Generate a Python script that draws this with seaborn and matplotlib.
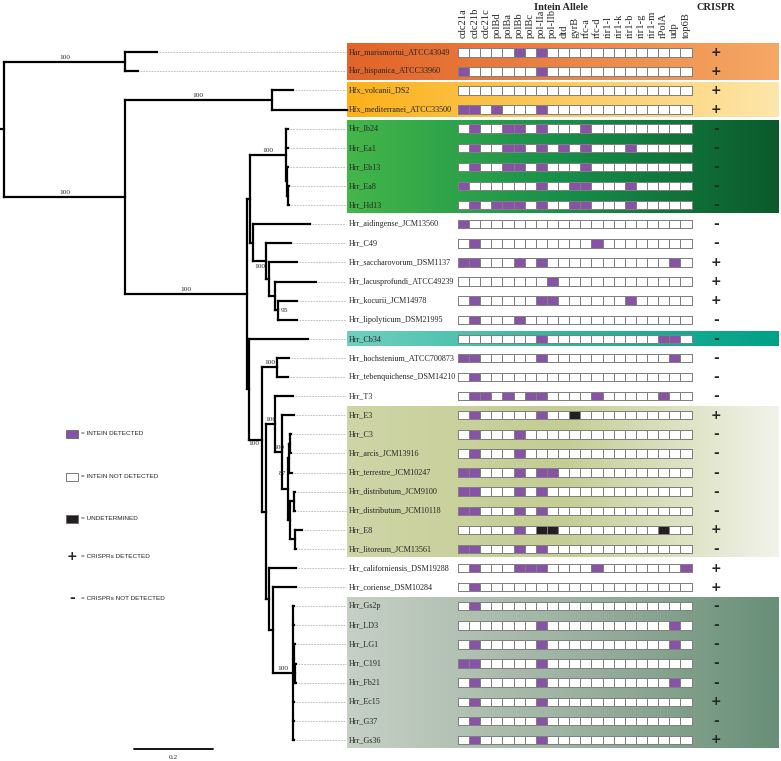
import numpy as np
import pandas as pd
import matplotlib
matplotlib.use("Agg")
import matplotlib.pyplot as plt
import seaborn as sns
from matplotlib.colors import ListedColormap, LinearSegmentedColormap
from matplotlib.patches import Rectangle

# ---------------- data ----------------
taxa = [
    "Har_marismortui_ATCC43049", "Har_hispanica_ATCC33960", "Hfx_volcanii_DS2",
    "Hfx_mediterranei_ATCC33500", "Hrr_Ib24", "Hrr_Ea1", "Hrr_Eb13", "Hrr_Ea8", "Hrr_Hd13",
    "Hrr_aidingense_JCM13560", "Hrr_C49", "Hrr_saccharovorum_DSM1137",
    "Hrr_lacusprofundi_ATCC49239", "Hrr_kocurii_JCM14978", "Hrr_lipolyticum_DSM21995",
    "Hrr_Cb34", "Hrr_hochstenium_ATCC700873", "Hrr_tebenquichense_DSM14210", "Hrr_T3",
    "Hrr_E3", "Hrr_C3", "Hrr_arcis_JCM13916", "Hrr_terrestre_JCM10247",
    "Hrr_distributum_JCM9100", "Hrr_distributum_JCM10118", "Hrr_E8", "Hrr_litoreum_JCM13561",
    "Hrr_californiensis_DSM19288", "Hrr_coriense_DSM10284", "Hrr_Gs2p", "Hrr_LD3", "Hrr_LG1",
    "Hrr_C191", "Hrr_Fb21", "Hrr_Ec15", "Hrr_G37", "Hrr_Gs36",
]

alleles = ["cdc21a", "cdc21b", "cdc21c", "polBd", "polBa", "polBb", "polBc", "pol-IIa",
           "pol-IIb", "dtd", "gyrB", "rfc-a", "rfc-d", "rir1-l", "rir1-k", "rir1-b",
           "rir1-g", "rir1-m", "rPolA", "udp", "top6B"]

intein_detected = [
    ["polBb", "pol-IIa"],
    ["cdc21a", "pol-IIa"],
    [],
    ["cdc21a", "cdc21b", "polBd", "pol-IIa"],
    ["cdc21b", "polBa", "polBb", "pol-IIa", "rfc-a"],
    ["cdc21b", "polBa", "polBb", "pol-IIa", "dtd", "rfc-a", "rir1-b"],
    ["cdc21b", "polBa", "polBb", "pol-IIa", "rfc-a"],
    ["cdc21a", "pol-IIa", "gyrB", "rfc-a", "rir1-b"],
    ["cdc21b", "polBd", "polBa", "polBb", "pol-IIa", "gyrB", "rfc-a", "rir1-b"],
    ["cdc21a"],
    ["cdc21b", "rfc-d"],
    ["cdc21a", "cdc21b", "polBb", "pol-IIa", "udp"],
    ["pol-IIb"],
    ["cdc21b", "pol-IIa", "pol-IIb", "rir1-b"],
    ["cdc21b", "polBb"],
    ["pol-IIa", "rPolA", "udp"],
    ["cdc21a", "cdc21b", "pol-IIa", "udp"],
    ["cdc21b"],
    ["cdc21b", "cdc21c", "polBa", "polBc", "pol-IIa", "rfc-d", "rPolA"],
    ["cdc21b", "pol-IIa"],
    ["cdc21b", "polBb"],
    ["cdc21b", "polBb"],
    ["cdc21a", "cdc21b", "polBb", "pol-IIa", "pol-IIb"],
    ["cdc21a", "cdc21b", "polBb", "pol-IIa"],
    ["cdc21a", "cdc21b", "polBb", "pol-IIa"],
    ["polBb"],
    ["cdc21a", "cdc21b", "polBb", "pol-IIa"],
    ["cdc21b", "polBb", "polBc", "pol-IIa", "rfc-d", "top6B"],
    ["cdc21b"],
    ["cdc21b"],
    ["pol-IIa", "udp"],
    ["cdc21b", "pol-IIa", "udp"],
    ["cdc21a", "cdc21b", "pol-IIa"],
    ["cdc21b", "pol-IIa", "udp"],
    ["cdc21b", "pol-IIa"],
    ["cdc21b", "pol-IIa"],
    ["cdc21b", "pol-IIa"],
]
undetermined_taxa = ["Hrr_E3", "Hrr_E8"]
undetermined_alleles = [["gyrB"], ["pol-IIa", "pol-IIb", "rPolA"]]

crispr = ["+", "+", "+", "+", "-", "-", "-", "-", "-", "-", "-", "+", "+", "+", "-", "-",
          "-", "-", "-", "+", "-", "-", "-", "-", "-", "+", "-", "+", "+", "-", "-", "-",
          "-", "-", "+", "-", "+"]

# tree (branch lengths in substitutions/site, support as internal labels)
F_ = "(Hrr_kocurii_JCM14978:0.048,Hrr_lipolyticum_DSM21995:0.046)95:0.010"
E_ = f"(Hrr_lacusprofundi_ATCC49239:0.106,{F_}):0.013"
D_ = f"(Hrr_saccharovorum_DSM1137:0.071,{E_})100:0.008"
C_ = f"(Hrr_C49:0.063,{D_}):0.033"
B_ = f"(Hrr_aidingense_JCM13560:0.144,{C_}):0.008"
G_ = "(Hrr_Ib24:0.005,Hrr_Ea1:0.006,(Hrr_Eb13:0.003,(Hrr_Ea8:0.004,Hrr_Hd13:0.004):0.002):0.002)100:0.091"
A_ = f"({G_},{B_}):0.008"
K_ = "(Hrr_hochstenium_ATCC700873:0.030,Hrr_tebenquichense_DSM14210:0.028)100:0.038"
Pt_ = "((Hrr_C3:0.003,Hrr_arcis_JCM13916:0.003):0.002,Hrr_terrestre_JCM10247:0.006):0.003"
Q_ = ("((Hrr_distributum_JCM9100:0.004,Hrr_distributum_JCM10118:0.004):0.010,"
      "(Hrr_E8:0.018,Hrr_litoreum_JCM13561:0.003):0.012):0.005")
O_ = f"({Pt_},{Q_})87:0.015"
N_ = f"(Hrr_E3:0.030,{O_})100:0.018"
M_ = f"(Hrr_T3:0.046,{N_})100:0.023"
T_ = ("(Hrr_Gs2p:0.003,Hrr_LD3:0.003,(Hrr_LG1:0.002,(Hrr_C191:0.003,Hrr_Fb21:0.003):0.002):0.002,"
      "Hrr_Ec15:0.003,Hrr_G37:0.003,Hrr_Gs36:0.003)100:0.051")
S_ = f"(Hrr_coriense_DSM10284:0.058,{T_}):0.010"
R_ = f"(Hrr_californiensis_DSM19288:0.068,{S_}):0.008"
L_ = f"({M_},{R_}):0.010"
J_ = f"({K_},{L_})100:0.033"
I_ = f"(Hrr_Cb34:0.149,{J_}):0.005"
H_ = f"({A_},{I_})100:0.309"
HFX_ = "(Hfx_volcanii_DS2:0.053,Hfx_mediterranei_ATCC33500:0.190)100:0.372"
R2_ = f"({HFX_},{H_})100:0.306"
HAR_ = "(Har_marismortui_ATCC43049:0.081,Har_hispanica_ATCC33960:0.033)100:0.306"
newick = f"({HAR_},{R2_}):0.010;"

band_first = ["Har_marismortui_ATCC43049", "Hfx_volcanii_DS2", "Hrr_Ib24", "Hrr_Cb34",
              "Hrr_E3", "Hrr_Gs2p"]
band_last = ["Har_hispanica_ATCC33960", "Hfx_mediterranei_ATCC33500", "Hrr_Hd13", "Hrr_Cb34",
             "Hrr_litoreum_JCM13561", "Hrr_Gs36"]

legend_labels = ["= INTEIN DETECTED", "= INTEIN NOT DETECTED", "= UNDETERMINED",
                 "= CRISPRs DETECTED", "= CRISPRs NOT DETECTED"]

# ---------------- styles ----------------
band_colors = [
    ["#e2642a", "#ec8443", "#f6a865"],
    ["#fbb11a", "#fcca5e", "#fee6ab"],
    ["#45b649", "#16904a", "#0b5a2b"],
    ["#72cfc0", "#2fb6a0", "#00a187"],
    ["#cfd5a7", "#c4cd93", "#f2f3ea"],
    ["#c6d0c5", "#9fb4a2", "#688f77"],
]
band_pad = [0.46, 0.4, 0.42, 0.37, 0.43, 0.43]
PURPLE = "#8853a6"
BLACK = "#231f20"

sns.set_theme(style="white")
plt.rcParams["font.family"] = ["Liberation Serif", "DejaVu Serif"]

W, H = 781, 761
PX_PER_UNIT = 395.0
ROW0, ROW_STEP = 52.3, 19.1


def X(px):
    return px / PX_PER_UNIT


def Y(px):
    return (px - ROW0) / ROW_STEP


fig = plt.figure(figsize=(W / 100, H / 100), dpi=100)
ax = fig.add_axes([0, 0, 1, 1])
ax.set_facecolor("none")

# background gradient bands
grad = np.linspace(0, 1, 256)[None, :]
for first, last, cols, pad in zip(band_first, band_last, band_colors, band_pad):
    r0 = taxa.index(first) - pad
    r1 = taxa.index(last) + pad
    cm = LinearSegmentedColormap.from_list("band", cols)
    ax.imshow(grad, extent=(X(347), X(779), r1, r0), aspect="auto", cmap=cm,
              interpolation="bilinear", zorder=0)


# ---------------- tree ----------------
def parse_newick(s):
    s = s.strip().rstrip(";")
    pos = 0

    def node():
        nonlocal pos
        children = []
        if s[pos] == "(":
            pos += 1
            while True:
                children.append(node())
                if s[pos] == ",":
                    pos += 1
                    continue
                if s[pos] == ")":
                    pos += 1
                    break
        start = pos
        while pos < len(s) and s[pos] not in ",():":
            pos += 1
        label = s[start:pos]
        length = 0.0
        if pos < len(s) and s[pos] == ":":
            pos += 1
            start = pos
            while pos < len(s) and s[pos] not in ",()":
                pos += 1
            length = float(s[start:pos])
        return {"label": label, "length": length, "children": children}

    return node()


def layout(n, x0):
    n["x0"] = x0
    n["x"] = x0 + n["length"]
    if not n["children"]:
        n["y"] = taxa.index(n["label"])
        n["tips"] = [n["label"]]
    else:
        for c in n["children"]:
            layout(c, n["x"])
        n["y"] = (n["children"][0]["y"] + n["children"][-1]["y"]) / 2
        n["tips"] = [t for c in n["children"] for t in c["tips"]]


root = parse_newick(newick)
layout(root, 0.0)

# custom placement of some support values (offsets in px from the node)
support_offsets = {
    ("Hrr_saccharovorum_DSM1137", "Hrr_lipolyticum_DSM21995"): (-10, -13, "center"),
    ("Hrr_kocurii_JCM14978", "Hrr_lipolyticum_DSM21995"): (2, 0, "left"),
    ("Hrr_hochstenium_ATCC700873", "Hrr_Gs36"): (-8, 4, "center"),
    ("Hrr_C3", "Hrr_litoreum_JCM13561"): (-6, -16, "center"),
}

LW = 1.6
LABEL_X = X(349)
LEADER_END = X(346)
SUP_FS = 5.3


def draw(n):
    ax.plot([n["x0"], n["x"]], [n["y"], n["y"]], color="black", lw=LW,
            solid_capstyle="projecting", zorder=3)
    if n["children"]:
        ax.plot([n["x"], n["x"]], [n["children"][0]["y"], n["children"][-1]["y"]],
                color="black", lw=LW, solid_capstyle="projecting", zorder=3)
        if n["label"]:
            key = (n["tips"][0], n["tips"][-1])
            if key in support_offsets:
                dx, dy, ha = support_offsets[key]
                ax.text(n["x"] + dx / PX_PER_UNIT, n["y"] + dy / ROW_STEP, n["label"],
                        fontsize=SUP_FS, ha=ha, va="center", zorder=4)
            else:
                ax.text((n["x0"] + n["x"]) / 2, n["y"] - 2 / ROW_STEP, n["label"],
                        fontsize=SUP_FS, ha="center", va="bottom", zorder=4)
        for c in n["children"]:
            draw(c)
    else:
        if n["x"] < LEADER_END - X(4):
            ax.plot([n["x"] + X(2), LEADER_END], [n["y"], n["y"]], color="#a9a9a9",
                    lw=0.5, ls=(0, (2.5, 1.5)), zorder=2)
        ax.text(LABEL_X, n["y"], n["label"], fontsize=5.9, ha="left", va="center", zorder=4)


draw(root)

# CRISPR column
for i, sym in enumerate(crispr):
    ax.text(X(716), i, sym if sym == "+" else "-", fontsize=9 if sym == "+" else 10,
            fontweight="bold", family="DejaVu Sans", ha="center", va="center", zorder=4)

# headers
ax.text(X(561), Y(7), "Intein Allele", fontsize=7.5, fontweight="bold", ha="center",
        va="center", zorder=4)
ax.text(X(716), Y(7), "CRISPR", fontsize=7.5, fontweight="bold", ha="center",
        va="center", zorder=4)

# legend
leg_y = [434, 477, 519, 556, 598]
sw_fc = [PURPLE, "white", BLACK]
for k, (yy, txt) in enumerate(zip(leg_y, legend_labels)):
    if k < 3:
        ax.add_patch(Rectangle((X(66), Y(yy - 4)), X(12), 8 / ROW_STEP, facecolor=sw_fc[k],
                               edgecolor="#666666", lw=0.6, zorder=4))
    else:
        ax.text(X(72), Y(yy), "+" if k == 3 else "-", fontsize=9 if k == 3 else 10,
                fontweight="bold", family="DejaVu Sans", ha="center", va="center", zorder=4)
    ax.text(X(81), Y(yy), txt, fontsize=4.6, family="Liberation Sans", ha="left",
            va="center", zorder=4)

# scale bar
ax.plot([X(134), X(134) + 0.2], [Y(749), Y(749)], color="black", lw=1.3, zorder=3)
ax.text(X(134) + 0.1, Y(758), "0.2", fontsize=5.3, ha="center", va="center", zorder=4)

ax.set_xlim(0, X(W))
ax.set_ylim(Y(H), Y(0))
ax.axis("off")

# ---------------- intein grid (one seaborn heatmap per taxon row) ----------------
mat = pd.DataFrame(0, index=taxa, columns=alleles, dtype=float)
for t, dets in zip(taxa, intein_detected):
    for a in dets:
        mat.loc[t, a] = 1
for t, und in zip(undetermined_taxa, undetermined_alleles):
    for a in und:
        mat.loc[t, a] = 2

cmap = ListedColormap(["white", PURPLE, BLACK])
CELL_W, CELL_H, GRID_X0 = 11.12, 8.4, 458.0
for i, t in enumerate(taxa):
    yc = ROW0 + ROW_STEP * i
    axr = fig.add_axes([GRID_X0 / W, 1 - (yc + CELL_H / 2) / H,
                        len(alleles) * CELL_W / W, CELL_H / H])
    axr.set_zorder(5)
    sns.heatmap(mat.loc[[t]], ax=axr, cmap=cmap, vmin=-0.5, vmax=2.5, cbar=False,
                linewidths=0.5, linecolor="#808080",
                xticklabels=alleles if i == 0 else False, yticklabels=False)
    axr.collections[0].set_clip_on(False)
    for sp in axr.spines.values():
        sp.set_visible(False)
    axr.set_xlabel("")
    axr.set_ylabel("")
    if i == 0:
        axr.xaxis.tick_top()
        axr.tick_params(axis="x", length=0, pad=7, labelrotation=90, labelsize=7.6,
                        labelfontfamily="Liberation Serif")

fig.savefig("out.png", dpi=100)
